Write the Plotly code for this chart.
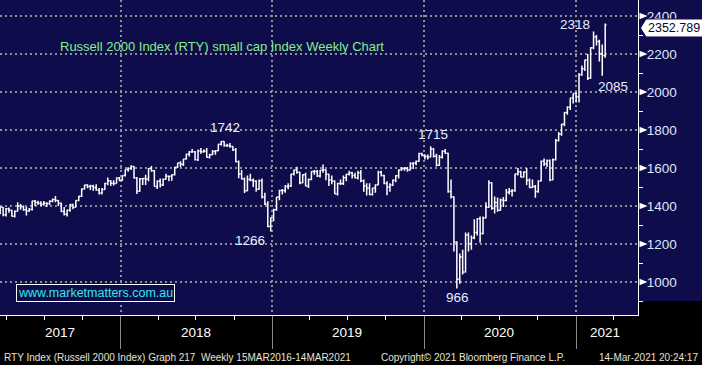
import plotly.graph_objects as go
import pandas as pd

# ---------------- data (weekly OHLC, Russell 2000) ----------------
weeks = pd.date_range("2017-03-17", "2021-03-12", freq="W-FRI")

opens = [
    # 2017
    1360,1393,1354,1386,1377,1346,1373,1400,1396,1380,1374,1382,1426,1419,1414,1409,1415,1413,1425,1434,
    1429,1415,1371,1356,1377,1408,1394,1429,1451,1490,1510,1502,1505,1497,1484,1468,1487,1519,1533,1520,1519,1548,
    # 2018
    1535,1560,1592,1597,1608,1547,1477,1543,1545,1542,1597,1585,1502,1530,1510,1541,1557,1556,1564,1604,1626,1620,
    1647,1672,1684,1686,1643,1690,1686,1689,1657,1670,1687,1691,1725,1740,1719,1718,1713,1696,1633,1569,1542,1480,
    1539,1536,1531,1488,1533,1448,1411,1292,
    # 2019
    1337,1380,1447,1482,1482,1502,1505,1568,1590,1578,1522,1564,1505,1540,1582,1581,1558,1588,1591,1567,1537,1531,
    1465,1519,1518,1549,1567,1575,1561,1549,1575,1533,1505,1495,1460,1495,1511,1577,1560,1519,1500,1511,1535,1559,
    1589,1597,1598,1590,1624,1626,1636,1676,
    # 2020
    1669,1661,1658,1700,1662,1614,1656,1688,1678,1476,1449,1210,1014,1131,1052,1247,1201,1233,1260,1333,1255,1337,
    1394,1522,1388,1418,1378,1431,1429,1473,1478,1480,1568,1580,1552,1579,1536,1497,1503,1476,1531,1636,1622,1640,
    1538,1644,1745,1778,1830,1892,1920,1969,1992,
    # 2021
    1975,2091,2123,2168,2073,2233,2289,2266,2201,2192,
]
highs = [
    1397,1395,1390,1392,1380,1376,1420,1410,1402,1395,1390,1427,1432,1428,1425,1426,1420,1430,1440,1452,
    1432,1417,1395,1382,1410,1412,1430,1452,1492,1512,1515,1512,1512,1515,1495,1495,1522,1550,1535,1535,1550,1552,
    1560,1592,1604,1615,1610,1553,1547,1548,1565,1600,1610,1590,1535,1545,1545,1570,1560,1566,1605,1628,1635,1648,
    1675,1690,1700,1690,1697,1705,1698,1705,1675,1695,1695,1727,1742,1741,1727,1732,1716,1705,1640,1590,1550,1560,
    1570,1545,1535,1540,1545,1470,1425,1340,
    1385,1447,1485,1490,1510,1520,1568,1592,1606,1580,1566,1575,1545,1583,1590,1590,1590,1618,1592,1570,1560,1535,
    1522,1540,1560,1570,1585,1580,1575,1585,1590,1540,1520,1520,1495,1515,1585,1585,1565,1530,1520,1540,1562,1592,
    1605,1605,1605,1630,1630,1640,1680,1680,
    1672,1671,1715,1705,1675,1668,1693,1700,1680,1540,1450,1215,1150,1170,1260,1260,1245,1330,1335,1345,1345,1420,
    1535,1525,1450,1445,1440,1448,1490,1495,1490,1570,1600,1585,1582,1600,1545,1540,1510,1535,1640,1650,1645,1645,
    1650,1752,1790,1833,1895,1925,1970,1992,2000,
    2100,2140,2170,2200,2235,2318,2300,2275,2250,2360,
]
lows = [
    1356,1346,1345,1365,1345,1340,1373,1380,1375,1350,1370,1376,1400,1405,1400,1401,1395,1405,1420,1420,
    1400,1368,1350,1345,1370,1383,1394,1425,1448,1487,1494,1484,1480,1480,1460,1460,1486,1509,1505,1508,1518,1530,
    1533,1555,1580,1590,1545,1463,1475,1510,1510,1530,1580,1502,1490,1497,1505,1540,1530,1533,1560,1600,1605,1610,
    1645,1660,1680,1640,1637,1675,1680,1655,1650,1668,1670,1690,1718,1712,1710,1707,1690,1630,1546,1540,1469,1478,
    1530,1500,1475,1485,1440,1405,1288,1266,
    1320,1375,1430,1460,1470,1488,1500,1560,1570,1515,1520,1505,1495,1535,1565,1552,1550,1575,1535,1505,1515,1465,
    1455,1510,1510,1530,1560,1545,1545,1540,1525,1475,1455,1456,1455,1470,1510,1555,1515,1456,1475,1505,1525,1545,
    1585,1585,1580,1588,1595,1615,1633,1662,
    1645,1645,1655,1655,1608,1610,1650,1675,1470,1440,1160,966,991,1040,1050,1160,1170,1225,1245,1207,1250,1335,
    1390,1380,1360,1370,1375,1395,1425,1460,1450,1475,1560,1550,1550,1510,1495,1495,1443,1470,1530,1610,1605,1530,
    1535,1640,1740,1770,1820,1880,1905,1940,1945,
    1945,2085,2110,2063,2070,2225,2245,2160,2085,2180,
]
closes = [
    1393,1354,1386,1377,1346,1373,1400,1396,1380,1374,1382,1426,1419,1414,1409,1415,1413,1425,1434,1429,
    1415,1371,1356,1377,1408,1394,1429,1451,1490,1510,1502,1505,1497,1484,1468,1487,1519,1533,1520,1519,1548,1535,
    1560,1592,1597,1608,1547,1477,1543,1545,1542,1597,1585,1502,1530,1510,1541,1557,1556,1564,1604,1626,1620,1647,
    1672,1684,1686,1643,1690,1686,1689,1657,1670,1687,1691,1725,1740,1719,1718,1713,1696,1633,1569,1542,1480,1539,
    1536,1531,1488,1533,1448,1411,1292,1337,
    1380,1447,1482,1482,1502,1505,1568,1590,1578,1522,1564,1505,1540,1582,1581,1558,1588,1591,1567,1537,1531,1465,
    1519,1518,1549,1567,1575,1561,1549,1575,1533,1505,1495,1460,1495,1511,1577,1560,1519,1500,1511,1535,1559,1589,
    1597,1598,1590,1624,1626,1636,1676,1669,
    1661,1658,1700,1662,1614,1656,1688,1678,1476,1449,1210,1014,1131,1052,1247,1201,1233,1260,1333,1255,1337,1394,
    1522,1388,1418,1378,1431,1429,1473,1478,1480,1568,1580,1552,1579,1536,1497,1503,1476,1531,1636,1622,1640,1538,
    1644,1745,1778,1830,1892,1920,1969,1992,1975,
    2091,2123,2168,2073,2233,2289,2266,2201,2192,2352.789,
]

title_text = "Russell 2000 Index (RTY) small cap Index Weekly Chart"
year_labels = ["2017", "2018", "2019", "2020", "2021"]
year_label_px = [60, 196, 347, 499, 605]
year_starts = ["2018-01-01", "2019-01-01", "2020-01-01", "2021-01-01"]
y_ticks = [1000, 1200, 1400, 1600, 1800, 2000, 2200, 2400]
footer_left = "RTY Index (Russell 2000 Index) Graph 217  Weekly 15MAR2016-14MAR2021"
footer_mid = "Copyright\u00a9 2021 Bloomberg Finance L.P."
footer_right = "14-Mar-2021 20:24:17"
watermark = "www.marketmatters.com.au"

# ---------------- geometry ----------------
W, H = 702, 365
PW, PH = 638, 315           # plot area in px
Y0, Y1 = 826.3, 2484.2      # y range
NAVY = "#0F0C4B"
GRID = "#8E8E94"
FONT = "Liberation Sans, Arial, sans-serif"

def v2px(v):
    return PH - (v - Y0) / (Y1 - Y0) * PH

def px2v(py):
    return Y1 - py / PH * (Y1 - Y0)

def px2paper_x(px):
    return px / PW

def py2paper_y(py):
    return (PH - py) / PH

fig = go.Figure()
fig.add_trace(go.Ohlc(
    x=weeks, open=opens, high=highs, low=lows, close=closes,
    increasing=dict(line=dict(color="white", width=1.5)),
    decreasing=dict(line=dict(color="white", width=1.5)),
    tickwidth=0.45, hoverinfo="skip", showlegend=False,
))

shapes = []
# navy right-hand axis panel
shapes.append(dict(type="rect", xref="paper", yref="paper", x0=1, x1=W / PW + 0.01,
                   y0=py2paper_y(301), y1=1.01, fillcolor=NAVY, line=dict(width=0), layer="below"))
# white triangle markers on the price axis
for v in y_ticks:
    d = 3.2 * (Y1 - Y0) / PH
    shapes.append(dict(type="path", xref="paper", yref="y",
                       path=f"M {px2paper_x(639.5)},{v - d} L {px2paper_x(647.5)},{v} L {px2paper_x(639.5)},{v + d} Z",
                       fillcolor="white", line=dict(width=0), layer="above"))
# last-price label box with pointer
last = closes[-1]
cy = v2px(last) + 3
top, bot = px2v(cy - 9), px2v(cy + 9)
shapes.append(dict(type="path", xref="paper", yref="y",
                   path=(f"M {px2paper_x(640.5)},{px2v(cy)} L {px2paper_x(646)},{top} "
                         f"L {px2paper_x(703)},{top} L {px2paper_x(703)},{bot} L {px2paper_x(646)},{bot} Z"),
                   fillcolor="white", line=dict(color="#0F0C4B", width=1), layer="above"))

annotations = []
annotations.append(dict(xref="paper", yref="y", x=px2paper_x(646), y=px2v(cy), xanchor="left", yanchor="middle",
                        text=f"{last:.3f}", showarrow=False,
                        font=dict(family=FONT, size=12.5, color="#0A0A30")))
# title
annotations.append(dict(xref="paper", yref="paper", x=px2paper_x(58), y=py2paper_y(46), xanchor="left",
                        yanchor="middle", text=title_text, showarrow=False,
                        font=dict(family=FONT, size=13, color="#86EE8A")))
# watermark
annotations.append(dict(xref="paper", yref="paper", x=px2paper_x(16), y=py2paper_y(292.5), xanchor="left",
                        yanchor="middle", text=watermark, showarrow=False, bgcolor=NAVY,
                        bordercolor="white", borderwidth=1, borderpad=1,
                        font=dict(family=FONT, size=12.5, color="#33E6EA")))
# year labels
for t, px in zip(year_labels, year_label_px):
    annotations.append(dict(xref="paper", yref="paper", x=px2paper_x(px), y=py2paper_y(332),
                            xanchor="center", yanchor="middle", text=t, showarrow=False,
                            font=dict(family=FONT, size=13.5, color="white")))
# footer
fy = py2paper_y(357)
fcol = "#E6E3D6"
annotations.append(dict(xref="paper", yref="paper", x=px2paper_x(2), y=fy, xanchor="left", yanchor="middle",
                        text=footer_left, showarrow=False, font=dict(family=FONT, size=10, color=fcol)))
annotations.append(dict(xref="paper", yref="paper", x=px2paper_x(379), y=fy, xanchor="left", yanchor="middle",
                        text=footer_mid, showarrow=False, font=dict(family=FONT, size=10, color=fcol)))
annotations.append(dict(xref="paper", yref="paper", x=px2paper_x(700), y=fy, xanchor="right", yanchor="middle",
                        text=footer_right, showarrow=False, font=dict(family=FONT, size=10, color=fcol)))

# extreme-value labels, taken from the data
def idx_between(arr, a, b, fn):
    sub = [(arr[i], i) for i in range(len(weeks)) if a <= str(weeks[i].date()) <= b]
    return fn(sub)[1]

marks = [
    (idx_between(highs, "2018-01-01", "2018-12-31", max), highs, 14, 4),
    (idx_between(lows, "2018-10-01", "2019-03-01", min), lows, -9, -21),
    (idx_between(highs, "2019-06-01", "2020-03-01", max), highs, 12, 2),
    (idx_between(lows, "2020-01-01", "2020-12-31", min), lows, -9, 1),
    (idx_between(highs, "2021-01-01", "2021-03-06", max), highs, 7, -19),
    (idx_between(lows, "2021-02-20", "2021-03-06", min), lows, -11, 11),
]
for i, arr, ys, xs in marks:
    annotations.append(dict(xref="x", yref="y", x=weeks[i], y=arr[i], text=f"{round(arr[i])}",
                            showarrow=False, xanchor="center", yanchor="middle", yshift=ys, xshift=xs,
                            font=dict(family=FONT, size=13.5, color="#E8EEFF")))

fig.update_layout(
    width=W, height=H, margin=dict(l=0, r=W - PW, t=0, b=H - PH, autoexpand=False),
    paper_bgcolor="black", plot_bgcolor=NAVY, showlegend=False,
    shapes=shapes, annotations=annotations,
    xaxis=dict(type="date", range=["2017-03-16 12:00", "2021-05-30"], rangeslider=dict(visible=False),
               tickmode="array", tickvals=year_starts, showticklabels=False, automargin=False,
               ticks="outside", ticklen=33, tickcolor="#8A8A8A", tickwidth=1,
               showgrid=True, gridcolor=GRID, griddash="2px,3px", gridwidth=2,
               showline=True, linecolor="white", linewidth=1, zeroline=False, fixedrange=True,
               minor=dict(ticks="outside", ticklen=4, tickcolor="white", tickwidth=1,
                          dtick="M3", tick0="2017-01-01", showgrid=False)),
    yaxis=dict(side="right", range=[Y0, Y1], tickmode="array", tickvals=y_ticks, automargin=False,
               showgrid=True, gridcolor=GRID, griddash="2px,3px", gridwidth=2,
               showline=True, linecolor="white", linewidth=1, zeroline=False, fixedrange=True,
               ticks="outside", ticklen=5, tickcolor=NAVY, tickwidth=1,
               tickfont=dict(family=FONT, size=13.5, color="#DDE6FA"),
               minor=dict(ticks="outside", ticklen=4, tickcolor="white", tickwidth=1,
                          tickmode="linear", tick0=900, dtick=100, showgrid=False)),
)

fig.write_html("out.html", config={"displayModeBar": False},
               post_script="document.body.style.margin='0';document.body.style.background='black';")
